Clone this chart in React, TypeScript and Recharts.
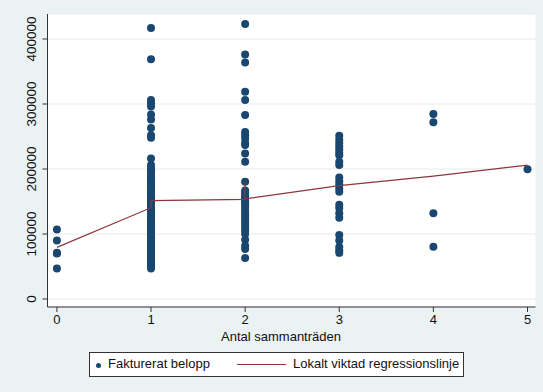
import React from "react";
import { ComposedChart, Scatter, Line, XAxis, YAxis, CartesianGrid } from "recharts";

const seriesNames = ["Fakturerat belopp", "Lokalt viktad regressionslinje"];
const xTicks = [0, 1, 2, 3, 4, 5];
const yTicks = [0, 100000, 200000, 300000, 400000];
const xTitle = "Antal sammanträden";

const values0 = [107000, 90000, 71000, 70000, 47000];
const values1 = [
  417000, 369000, 306000, 301000, 296000, 284000, 276000, 263000, 252000, 248000, 216000,
  206000, 202000, 198000, 195000, 191000, 188000, 184000, 181000, 178000, 175000, 171000,
  168000, 164000, 161000, 158000, 155000, 152000, 149000, 146000, 143000, 140000, 137000,
  134000, 131000, 128000, 125000, 122000, 119000, 116000, 113000, 110000, 107000, 104000,
  101000, 98000, 95000, 92000, 89000, 86000, 83000, 80000, 77000, 74000, 71000, 68000,
  65000, 62000, 59000, 56000, 53000, 50000, 47000,
];
const values2 = [
  423000, 376000, 364000, 319000, 306000, 283000, 257000, 252000, 247000, 240000, 237000,
  224000, 211000, 180500, 167000, 163000, 160000, 157000, 154000, 151000, 148000, 145000,
  141000, 137000, 133000, 129000, 125000, 121000, 117000, 113000, 109000, 105000, 100000,
  91000, 82000, 77000, 63000,
];
const values3 = [
  251000, 245000, 240000, 235000, 230000, 225000, 221000, 211000, 206000, 187000, 181000,
  176000, 170000, 165000, 145000, 140000, 132000, 125000, 98500, 90000, 80000, 75000, 71000,
];
const values4 = [284600, 271800, 131800, 80500];
const values5 = [199500];

const lowessX = [0, 1, 1, 2, 2, 2, 3, 4, 5];
const lowessY = [79500, 140500, 151500, 153400, 180000, 154000, 174300, 189000, 206000];

const groups: [number, number[]][] = [
  [0, values0],
  [1, values1],
  [2, values2],
  [3, values3],
  [4, values4],
  [5, values5],
];
const scatterData = groups.flatMap(([x, vs]) => vs.map((y) => ({ x, y })));
const lineData = lowessX.map((x, i) => ({ x, y: lowessY[i] }));

const NAVY = "#1a476f";
const MAROON = "#90353b";
const BG = "#eaf2f3";
const FONT = "'Liberation Sans', Arial, sans-serif";

const Dot = (p: any) => <circle cx={p.cx} cy={p.cy} r={4} fill={NAVY} />;

const YTick = (p: any) => {
  const { x, y, payload } = p;
  return (
    <text
      x={x}
      y={y}
      transform={`rotate(-90 ${x} ${y})`}
      textAnchor="middle"
      fontSize={13.5}
      fontFamily={FONT}
      fill="#111"
    >
      {payload.value}
    </text>
  );
};

export default function App() {
  return (
    <div
      style={{
        position: "absolute",
        left: 0,
        top: 0,
        width: 543,
        height: 392,
        background: BG,
        fontFamily: FONT,
      }}
    >
      <ComposedChart
        width={543}
        height={392}
        margin={{ top: 14, right: 7.5, bottom: 45, left: 0 }}
      >
        <CartesianGrid
          horizontal
          vertical={false}
          stroke="#e4ecef"
          strokeWidth={1}
          fill="#ffffff"
        />
        <XAxis
          type="number"
          dataKey="x"
          domain={[-0.1, 5.085]}
          ticks={xTicks}
          allowDataOverflow
          height={40}
          tickSize={5}
          tickMargin={3}
          stroke="#333"
          tick={{ fontSize: 13, fontFamily: FONT, fill: "#111" }}
          label={{
            content: () => (
              <text x={281} y={341} textAnchor="middle" fontSize={13} fontFamily={FONT} fill="#111">
                {xTitle}
              </text>
            ),
          }}
        />
        <YAxis
          type="number"
          dataKey="y"
          domain={[-12300, 438460]}
          ticks={yTicks}
          allowDataOverflow
          width={47.5}
          tickSize={5}
          tickMargin={6}
          stroke="#333"
          tick={<YTick />}
        />
        <Scatter
          name={seriesNames[0]}
          data={scatterData}
          dataKey="y"
          shape={<Dot />}
          isAnimationActive={false}
        />
        <Line
          name={seriesNames[1]}
          data={lineData}
          dataKey="y"
          type="linear"
          stroke={MAROON}
          strokeWidth={1.2}
          dot={false}
          activeDot={false}
          isAnimationActive={false}
          {...({ zIndex: 700 } as any)}
        />
      </ComposedChart>
      <div
        style={{
          position: "absolute",
          left: 89,
          top: 352,
          width: 373,
          height: 23,
          border: "1px solid #333",
          background: "#fff",
          fontSize: 13,
          color: "#111",
        }}
      >
        <span
          style={{
            position: "absolute",
            left: 6,
            top: 10,
            width: 5,
            height: 5,
            borderRadius: "50%",
            background: NAVY,
          }}
        />
        <span style={{ position: "absolute", left: 18, top: 3, whiteSpace: "nowrap" }}>
          {seriesNames[0]}
        </span>
        <span
          style={{
            position: "absolute",
            left: 147,
            top: 11,
            width: 49,
            height: 1,
            background: MAROON,
          }}
        />
        <span style={{ position: "absolute", left: 203, top: 3, whiteSpace: "nowrap" }}>
          {seriesNames[1]}
        </span>
      </div>
    </div>
  );
}
